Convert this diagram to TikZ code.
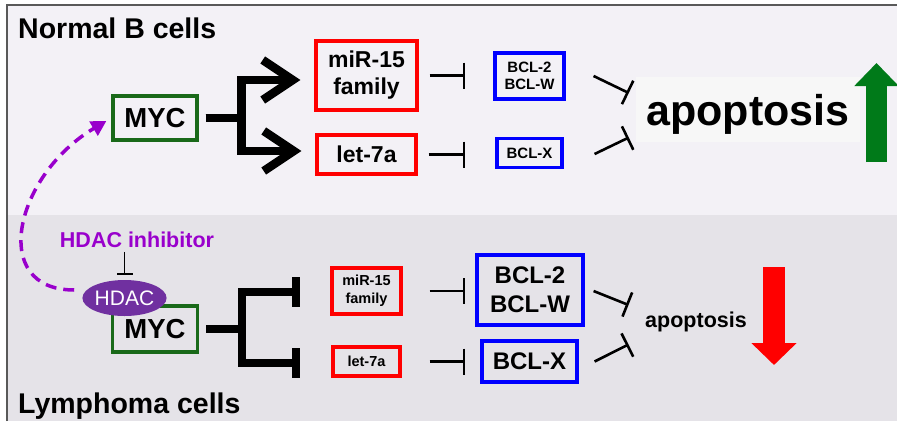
\documentclass[tikz,border=0pt]{standalone}
\usepackage{fontspec}
\setmainfont{Liberation Sans}
\usepackage{xcolor}
\usetikzlibrary{calc}
\usetikzlibrary{positioning}
\usetikzlibrary{arrows.meta}
\usetikzlibrary{shapes.geometric}
\definecolor{topbg}{RGB}{243,241,246}
\definecolor{botbg}{RGB}{229,227,232}
\definecolor{apobg}{RGB}{247,247,247}
\definecolor{mycgreen}{RGB}{25,105,25}
\definecolor{upgreen}{RGB}{0,122,25}
\definecolor{hdacpurple}{RGB}{112,48,160}
\definecolor{inhpurple}{RGB}{153,0,204}
\newcommand{\fsz}[2]{\fontsize{#1}{#2}\selectfont}

\begin{document}
\begin{tikzpicture}[x=1pt, y=-1pt, font=\bfseries, line join=miter]
	\tikzstyle{box}=[draw, rectangle, line width=3.2pt, inner sep=0pt, align=center]
	\tikzstyle{mycbox}=[box, draw=mycgreen, minimum width=84pt, minimum height=44pt, font=\bfseries\fsz{27.5}{30}]
	\tikzstyle{mirna}=[box, draw=red]
	\tikzstyle{bclbox}=[box, draw=blue]
	\tikzstyle{title}=[anchor=base west, inner sep=0pt, font=\bfseries\fsz{28.5}{30}]
	\tikzstyle{fat}=[line width=8.5pt]
	\tikzstyle{act}=[fat, -{Straight Barb[length=30pt, width=40pt]}]
	\tikzstyle{blk}=[fat, -{Bar[width=30pt]}]
	\tikzstyle{inh}=[line width=2.6pt, -{Bar[width=26pt]}]

	\useasboundingbox (0,0) rectangle (897,421);
	\fill[topbg] (7,5) rectangle (897,215);
	\fill[botbg] (7,215) rectangle (897,421);
	\draw[black!65, line width=1.5pt] (7,421) -- (7,5) -- (897,5);

	% normal B cells
	\node[title] (normal) at (18,38) {Normal B cells};
	\node[mycbox] (myc) at (155,118) {MYC};
	\node[mirna, minimum width=101pt, minimum height=69pt, font=\bfseries\fsz{23}{27}] (mir) at (366.5,75.5) {miR-15\\family};
	\node[mirna, minimum width=99pt, minimum height=39pt, font=\bfseries\fsz{23}{27}] (let) at (366.5,154.5) {let-7a};
	\node[bclbox, minimum width=69pt, minimum height=46pt, font=\bfseries\fsz{15}{17}] (bcl) at (529.5,76) {BCL-2\\BCL-W};
	\node[bclbox, minimum width=65pt, minimum height=29pt, font=\bfseries\fsz{15}{17}] (bclx) at (529.5,153) {BCL-X};
	\node[fill=apobg, minimum width=224pt, minimum height=65pt, inner sep=0pt, text height=40pt, text depth=9pt, font=\bfseries\fsz{43}{48}] (apo) at (748,109.5) {apoptosis};

	\draw[act, shorten <=7pt, shorten >=14pt] (myc.east) -- ++(43,0) |- ([yshift=-4.5pt]mir.west);
	\draw[act, shorten <=7pt, shorten >=14pt] (myc.east) -- ++(43,0) |- ([yshift=3.5pt]let.west);
	\draw[inh, shorten <=11pt, shorten >=28pt] (mir.east) -- (mir.east -| bcl.west);
	\draw[inh, shorten <=11pt, shorten >=30pt] (let.east) -- (let.east -| bclx.west);
	\draw[inh] ($(bcl.east)+(28,0)$) -- ($(apo.west)+(-7,-16.5)$);
	\draw[inh] ($(bclx.east)+(31,1)$) -- ($(apo.west)+(-7,28)$);
	\draw[upgreen, line width=21pt, -{Triangle[length=23pt, width=43pt]}] (876.5,162) -- (876.5,63);

	% lymphoma cells
	\node[title] (lymph) at (18,413) {Lymphoma cells};
	\node[mycbox, minimum width=85pt, minimum height=46pt] (myc2) at (155,329) {MYC};
	\node[ellipse, fill=hdacpurple, text=white, font=\fsz{21}{24}, minimum width=73pt, minimum height=36pt, inner sep=0pt] (hdac) at (124.5,298) {HDAC};
	\node[above=32pt of hdac, xshift=12.5pt, inner sep=0pt, text=inhpurple, font=\bfseries\fsz{21.5}{24}] (hdaci) {HDAC inhibitor};
	\node[mirna, minimum width=69pt, minimum height=46pt, font=\bfseries\fsz{14.5}{18}] (mir2) at (366.5,291) {miR-15\\family};
	\node[mirna, minimum width=67pt, minimum height=29pt, font=\bfseries\fsz{14.5}{18}] (let2) at (366.5,361.5) {let-7a};
	\node[bclbox, minimum width=106pt, minimum height=70pt, font=\bfseries\fsz{24}{29}] (bcl2) at (530,290) {BCL-2\\BCL-W};
	\node[bclbox, minimum width=95pt, minimum height=41pt, font=\bfseries\fsz{24}{29}] (bclx2) at (529.5,361.5) {BCL-X};
	\node[inner sep=0pt, font=\bfseries\fsz{21.5}{24}] (apo2) at (696,322) {apoptosis};

	\draw[line width=1.8pt, -{Bar[width=16pt]}, shorten <=4pt, shorten >=5pt] (hdac.north |- hdaci.south) -- (hdac.north);
	\draw[inhpurple, line width=3.5pt, dash pattern=on 11pt off 7pt, -{Triangle[length=15pt, width=16pt]}] ([xshift=-8pt, yshift=8pt]hdac.west) .. controls (-12,290) and (15,175) .. ([xshift=-5pt, yshift=-3pt]myc.west);
	\draw[blk, shorten <=7pt, shorten >=30pt] (myc2.east) -- ++(43,0) |- ([yshift=-1pt]mir2.west);
	\draw[blk, shorten <=7pt, shorten >=31pt] (myc2.east) -- ++(43,0) |- ([yshift=-1.5pt]let2.west);
	\draw[inh, shorten <=27pt, shorten >=10pt] (mir2.east) -- (mir2.east -| bcl2.west);
	\draw[inh, shorten <=28pt, shorten >=15pt] (let2.east) -- (let2.east -| bclx2.west);
	\draw[inh] ($(bcl2.east)+(9,1)$) -- ($(apo2.west)+(-16.5,-17)$);
	\draw[inh] ($(bclx2.east)+(16,0)$) -- ($(apo2.west)+(-16.5,22.5)$);
	\draw[red, line width=22pt, -{Triangle[length=22pt, width=44pt]}] (774,267) -- (774,365);
\end{tikzpicture}
\end{document}
